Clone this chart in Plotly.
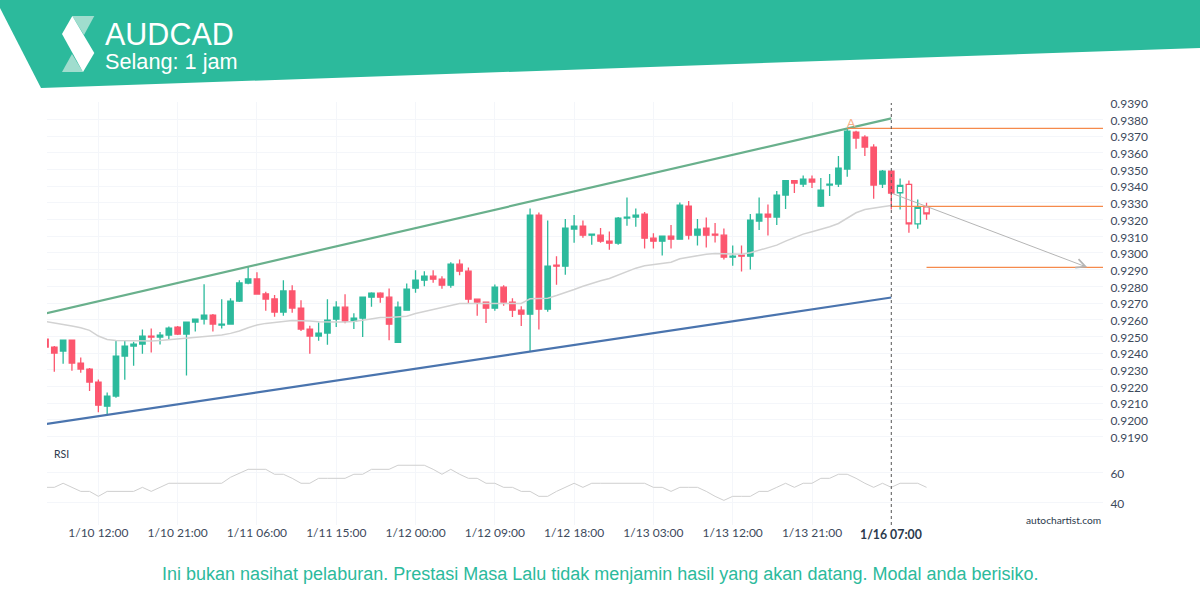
import plotly.graph_objects as go

# цены, индекс = номер часовой свечи
opens = [.92484, .92436, .92412, .92478, .92340, .92304, .92226, .92082, .92142, .92382,
         .92442, .92454, .92502, .92496, .92508, .92556, .92514, .92586, .92604, .92628,
         .92568, .92574, .92712, .92820, .92844, .92754, .92724, .92646, .92772, .92670,
         .92544, .92502, .92520, .92603, .92675, .92591, .92609, .92735, .92759, .92735,
         .92465, .92657, .92789, .92837, .92861, .92843, .92807, .92933, .92891, .92723,
         .92705, .92669, .92795, .92705, .92657, .92633, .93227, .92663, .92927, .92921,
         .93143, .93161, .93107, .93107, .93071, .93059, .93209, .93215, .93233, .93089,
         .93071, .93101, .93083, .93281, .93107, .93149, .93113, .93107, .92975, .92987,
         .92981, .93191, .93233, .93215, .93347, .93433, .93413, .93443, .93281, .93407,
         .93413, .93503, .93725, .93695, .93635, .93413, .93491]
highs = [.92490, .92442, .92480, .92482, .92374, .92310, .92242, .92164, .92472, .92472,
         .92468, .92542, .92548, .92526, .92560, .92562, .92586, .92604, .92812, .92634,
         .92722, .92728, .92836, .92918, .92884, .92768, .92748, .92836, .92806, .92716,
         .92564, .92584, .92722, .92711, .92753, .92639, .92735, .92765, .92765, .92787,
         .92709, .92817, .92897, .92891, .92897, .92861, .92945, .92961, .92913, .92723,
         .92705, .92811, .92807, .92729, .92681, .93267, .93243, .93195, .92981, .93203,
         .93227, .93195, .93113, .93149, .93129, .93215, .93333, .93267, .93245, .93119,
         .93101, .93167, .93303, .93311, .93203, .93213, .93179, .93147, .93045, .93045,
         .93233, .93333, .93291, .93371, .93433, .93437, .93465, .93465, .93449, .93473,
         .93581, .93747, .93733, .93705, .93651, .93497, .93491]
lows = [.92430, .92288, .92336, .92294, .92282, .92172, .92046, .92028, .92132, .92240,
        .92324, .92396, .92404, .92452, .92484, .92508, .92266, .92530, .92572, .92530,
        .92548, .92574, .92706, .92812, .92750, .92654, .92618, .92624, .92642, .92532,
        .92396, .92474, .92450, .92557, .92579, .92545, .92497, .92677, .92701, .92477,
        .92461, .92655, .92761, .92801, .92821, .92785, .92791, .92867, .92697, .92623,
        .92581, .92653, .92683, .92617, .92563, .92407, .92541, .92647, .92809, .92869,
        .93061, .93091, .93049, .93061, .93019, .93049, .93163, .93157, .93027, .93027,
        .92985, .93027, .93081, .93081, .93045, .93033, .93063, .92961, .92923, .92889,
        .92901, .93137, .93105, .93167, .93263, .93359, .93395, .93389, .93275, .93341,
        .93395, .93457, .93625, .93581, .93325, .93389, .93260]
closes = [.92436, .92400, .92478, .92340, .92304, .92226, .92088, .92142, .92382, .92442,
          .92454, .92502, .92496, .92508, .92550, .92514, .92586, .92604, .92628, .92574,
          .92574, .92712, .92820, .92844, .92754, .92724, .92646, .92772, .92670, .92544,
          .92502, .92520, .92598, .92675, .92591, .92609, .92735, .92759, .92735, .92573,
          .92675, .92783, .92837, .92861, .92843, .92807, .92933, .92891, .92723, .92705,
          .92669, .92795, .92705, .92657, .92633, .93227, .92663, .92921, .92921, .93149,
          .93161, .93107, .93113, .93071, .93059, .93209, .93215, .93227, .93089, .93071,
          .93101, .93083, .93287, .93107, .93143, .93107, .93107, .92975, .92981, .92981,
          .93197, .93233, .93215, .93347, .93433, .93419, .93443, .93425, .93377, .93413,
          .93509, .93731, .93689, .93635, .93407, .93491, .93359]

# свечи после паттерна (не закрашены)
after_x = [97, 98, 99, 100]
after_open = [.93361, .93411, .93175, .93277]
after_high = [.93447, .93435, .93321, .93301]
after_low = [.93261, .93121, .93145, .93199]
after_close = [.93405, .93175, .93273, .93235]

ma = [.92590, .92582, .92572, .92562, .92552, .92536, .92502, .92482, .92476, .92474,
      .92474, .92472, .92472, .92476, .92480, .92484, .92488, .92492, .92498, .92504,
      .92508, .92518, .92532, .92552, .92568, .92578, .92582, .92590, .92596, .92596,
      .92592, .92588, .92586, .92587, .92587, .92589, .92597, .92605, .92613, .92613,
      .92615, .92621, .92637, .92649, .92661, .92669, .92685, .92697, .92697, .92697,
      .92697, .92697, .92697, .92697, .92697, .92725, .92725, .92729, .92745, .92761,
      .92781, .92801, .92819, .92833, .92847, .92867, .92889, .92909, .92923, .92931,
      .92939, .92945, .92965, .92975, .92987, .92993, .92997, .92997, .92993, .92993,
      .93001, .93017, .93033, .93047, .93071, .93091, .93113, .93127, .93141, .93157,
      .93177, .93211, .93241, .93261, .93267, .93277, .93285]

rsi = [50, 50, 52.7, 50, 47.3, 47.3, 44, 47.3, 47.3, 47.3,
       47.3, 50, 47.3, 50, 52.7, 52.7, 52.7, 52.7, 52.7, 52.7,
       52.7, 56.7, 59.3, 62, 62, 62, 58.7, 58.7, 56, 52.7,
       52.7, 56, 56, 56, 56, 58.7, 58.7, 62, 62, 62,
       64.7, 64.7, 64.7, 64.7, 62, 58.7, 62, 58.7, 56, 56,
       52.7, 52.7, 50, 50, 47.3, 47.3, 44, 44, 47.3, 50,
       52.7, 50, 52.7, 52.7, 52.7, 52.7, 52.7, 52.7, 52.7, 50,
       50, 47.3, 50, 50, 50, 47.3, 44, 41.3, 44, 44,
       44, 47.3, 47.3, 50, 52.7, 50, 52.7, 52.7, 56, 56,
       58.7, 58.7, 56, 52.7, 50, 52.7, 50, 52.7, 52.7, 52.7, 50]

# канал и уровни
channel_x = [0, 96]
upper_channel = [.92638, .93807]
lower_channel = [.91974, .92733]
level_a = .93747
level_mid = .93279
level_target = .92914
arrow_from = (96, .93359)
arrow_to = (118.25, .92914)

tick_pos = [6, 15, 24, 33, 42, 51, 60, 69, 78, 87]
tick_text = ["1/10 12:00", "1/10 21:00", "1/11 06:00", "1/11 15:00", "1/12 00:00",
             "1/12 09:00", "1/12 18:00", "1/13 03:00", "1/13 12:00", "1/13 21:00"]
price_ticks = [.919 + k * .001 for k in range(21)]

TEAL = "#2cba9c"
RED = "#fc566e"
GRID = "#f4f6fa"
TXT = "#3d4a5c"
ORANGE = "#f58a4c"


def fx(px):
    return px / 1200


def fy(py):
    return 1 - py / 600


fig = go.Figure()

fig.add_trace(go.Candlestick(x=list(range(len(opens))), open=opens, high=highs, low=lows, close=closes,
                             increasing=dict(line=dict(color=TEAL, width=1.3), fillcolor=TEAL),
                             decreasing=dict(line=dict(color=RED, width=1.3), fillcolor=RED),
                             whiskerwidth=0, hoverinfo="skip"))
fig.add_trace(go.Candlestick(x=after_x, open=after_open, high=after_high, low=after_low, close=after_close,
                             increasing=dict(line=dict(color=TEAL, width=1.3), fillcolor="white"),
                             decreasing=dict(line=dict(color=RED, width=1.3), fillcolor="white"),
                             whiskerwidth=0, hoverinfo="skip"))
fig.add_trace(go.Scatter(x=list(range(len(ma))), y=ma, mode="lines",
                         line=dict(color="#d2d2d2", width=1.5), hoverinfo="skip"))
fig.add_trace(go.Scatter(x=channel_x, y=upper_channel, mode="lines",
                         line=dict(color="#69b08c", width=2.2), hoverinfo="skip"))
fig.add_trace(go.Scatter(x=channel_x, y=lower_channel, mode="lines",
                         line=dict(color="#4a74ae", width=2.2), hoverinfo="skip"))
fig.add_trace(go.Scatter(x=list(range(len(rsi))), y=rsi, mode="lines", yaxis="y2",
                         line=dict(color="#cfcfcf", width=1), hoverinfo="skip"))

# уровни паттерна
for y0, x0 in [(level_a, 91), (level_mid, 96), (level_target, 100)]:
    fig.add_shape(type="line", xref="x", yref="y", x0=x0, x1=120.03, y0=y0, y1=y0,
                  line=dict(color=ORANGE, width=1.3))

# вертикальная линия текущего времени
fig.add_shape(type="line", xref="x", yref="paper", x0=96, x1=96, y0=fy(525), y1=fy(103),
              line=dict(color="#555555", width=1, dash="dot"))

# шапка
fig.add_shape(type="path", xref="paper", yref="paper", fillcolor=TEAL, line_width=0, layer="below",
              path=f"M {fx(0)} {fy(0)} L {fx(0)} {fy(8)} L {fx(41)} {fy(88)} L {fx(1200)} {fy(48)} L {fx(1200)} {fy(0)} Z")
fig.add_shape(type="path", xref="paper", yref="paper", fillcolor="#a0ddce", line_width=0,
              path=f"M {fx(72.3)} {fy(16)} L {fx(94.3)} {fy(16)} L {fx(84)} {fy(35)} Z")
fig.add_shape(type="path", xref="paper", yref="paper", fillcolor="#a0ddce", line_width=0,
              path=f"M {fx(62)} {fy(72)} L {fx(83)} {fy(72)} L {fx(72)} {fy(54)} Z")
fig.add_shape(type="path", xref="paper", yref="paper", fillcolor="white", line_width=0,
              path=f"M {fx(72.3)} {fy(16)} L {fx(62)} {fy(34)} L {fx(83)} {fy(72)} L {fx(94.3)} {fy(53)} Z")

fig.add_annotation(xref="paper", yref="paper", x=fx(103), y=fy(34), text="AUDCAD", showarrow=False,
                   xanchor="left", yanchor="middle", font=dict(family="Liberation Sans", size=30.5, color="white"))
fig.add_annotation(xref="paper", yref="paper", x=fx(103), y=fy(62), text="Selang: 1 jam", showarrow=False,
                   xanchor="left", yanchor="middle", font=dict(family="Liberation Sans", size=21.7, color="white"))
fig.add_annotation(xref="paper", yref="paper", x=fx(600), y=fy(574),
                   text="Ini bukan nasihat pelaburan. Prestasi Masa Lalu tidak menjamin hasil yang akan datang. Modal anda berisiko.",
                   showarrow=False, xanchor="center", yanchor="middle",
                   font=dict(family="Liberation Sans", size=18, color=TEAL))
fig.add_annotation(xref="paper", yref="paper", x=fx(52), y=fy(454), text="RSI", showarrow=False,
                   xanchor="left", yanchor="middle", font=dict(family="Lato", size=10.5, color="#2c3a4d"))
fig.add_annotation(xref="paper", yref="paper", x=fx(1103), y=fy(520), text="autochartist.com", showarrow=False,
                   xanchor="right", yanchor="middle", font=dict(family="Lato", size=10.2, color="#2c3a4d"))
fig.add_annotation(xref="x", yref="paper", x=96, y=fy(534), text="<b>1/16 07:00</b>", showarrow=False,
                   xanchor="center", yanchor="middle", font=dict(family="Lato", size=12.3, color="#2c3a4d"))
fig.add_annotation(xref="x", yref="y", x=91.5, y=.9378, text="A", showarrow=False,
                   font=dict(family="Lato", size=12, color="#f7ae86"))

# стрелка прогноза
fig.add_annotation(xref="x", yref="y", axref="x", ayref="y", x=arrow_to[0], y=arrow_to[1],
                   ax=arrow_from[0], ay=arrow_from[1], text="", showarrow=True,
                   arrowhead=5, arrowsize=1.8, arrowwidth=1, arrowcolor="#b5b5b5")

fig.update_layout(
    width=1200,
    height=600,
    margin=dict(l=0, r=0, t=0, b=0, autoexpand=False),
    autosize=False,
    showlegend=False,
    boxgap=0.12,
    paper_bgcolor="white",
    plot_bgcolor="white",
    xaxis=dict(
        domain=[fx(47), fx(1103)],
        anchor="y2",
        range=[0.17, 120.03],
        rangeslider=dict(visible=False),
        tickmode="array",
        tickvals=tick_pos,
        ticktext=tick_text,
        tickfont=dict(family="Lato", size=12, color=TXT),
        ticklabelstandoff=-1,
        showgrid=True,
        gridcolor=GRID,
        gridwidth=1,
        zeroline=False,
        showline=False,
        ticks="",
        automargin=False,
    ),
    yaxis=dict(
        domain=[fy(445), fy(102)],
        anchor="x",
        side="right",
        range=[.91849, .93905],
        tickmode="array",
        tickvals=price_ticks,
        tickformat=".4f",
        tickfont=dict(family="Lato", size=12, color=TXT),
        ticklabelshift=1,
        showgrid=True,
        gridcolor=GRID,
        gridwidth=1,
        zeroline=False,
        showline=False,
        ticks="outside",
        ticklen=4,
        tickcolor="white",
        automargin=False,
    ),
    yaxis2=dict(
        domain=[fy(525), fy(445)],
        anchor="x",
        side="right",
        range=[24.9, 78.2],
        tickmode="array",
        tickvals=[40, 60],
        tickfont=dict(family="Lato", size=12, color=TXT),
        ticklabelshift=1,
        showgrid=True,
        gridcolor=GRID,
        gridwidth=1,
        zeroline=False,
        showline=False,
        ticks="outside",
        ticklen=4,
        tickcolor="white",
        automargin=False,
    ),
)

fig.write_html("out.html", config=dict(displayModeBar=False), post_script="document.body.style.margin='0';")
